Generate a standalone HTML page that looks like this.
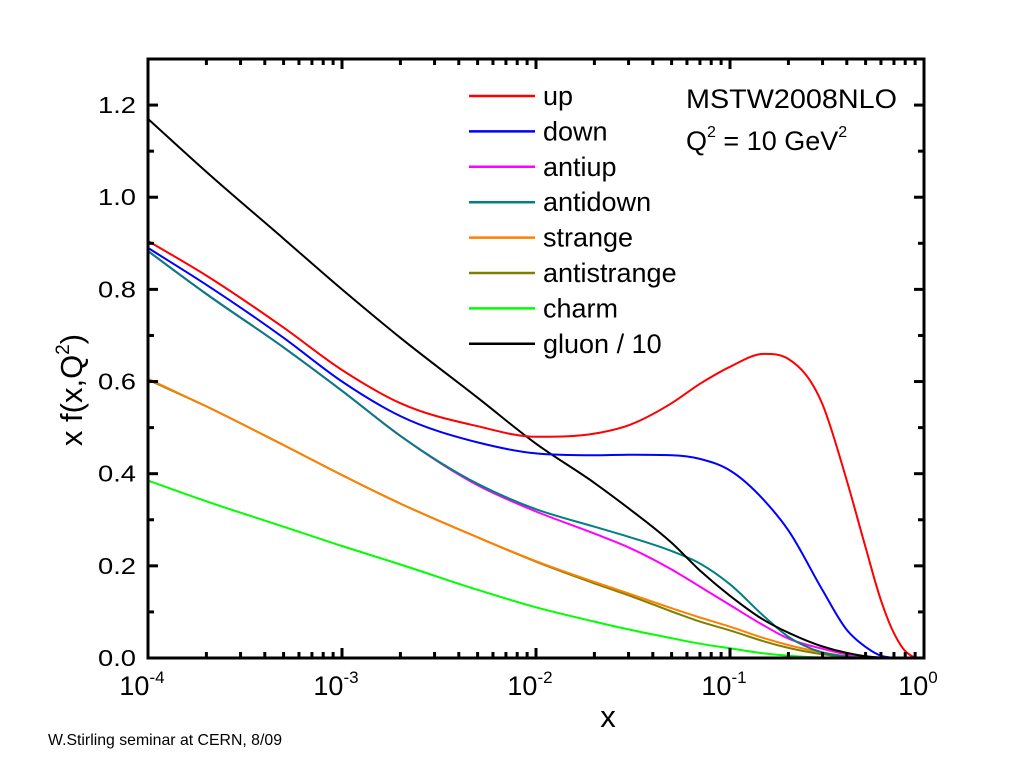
<!DOCTYPE html>
<html><head><meta charset="utf-8"><style>
body{margin:0;background:#fff;}
svg text{font-family:"Liberation Sans",Arial,sans-serif;}
</style></head><body>
<svg id="chart" width="1024" height="768" xmlns="http://www.w3.org/2000/svg">
<g id="marks"></g>
<g id="axes"></g>
<text x="48" y="745" font-size="16" fill="#000" textLength="234" lengthAdjust="spacingAndGlyphs">W.Stirling seminar at CERN, 8/09</text>
<text x="686" y="108" font-size="27" textLength="211" lengthAdjust="spacingAndGlyphs">MSTW2008NLO</text>
<text x="686" y="150" font-size="27">Q<tspan dy="-13" font-size="16">2</tspan><tspan dy="13"> = 10 GeV</tspan><tspan dy="-13" font-size="16">2</tspan></text>
<text transform="translate(82,390) rotate(-90)" text-anchor="middle" font-size="31">x f(x,Q<tspan dy="-13" font-size="19">2</tspan><tspan dy="13">)</tspan></text>
<text x="608" y="727" text-anchor="middle" font-size="31">x</text>
</svg>
<script>
const xGrid = [1e-4,2e-4,5e-4,1e-3,2e-3,5e-3,1e-2,2e-2,3e-2,5e-2,7e-2,0.1,0.15,0.2,0.3,0.4,0.5,0.6,0.7,0.8,0.9,1.0];
const seriesNames = ["up","down","antiup","antidown","strange","antistrange","charm","gluon / 10"];
const seriesColors = ["#ff0000","#0000ff","#ff00ff","#008080","#ff8000","#808000","#00ff00","#000000"];
const upVals =      [0.905,0.83,0.717,0.625,0.553,0.503,0.48,0.487,0.505,0.553,0.595,0.632,0.66,0.649,0.55,0.385,0.24,0.125,0.054,0.015,0.0,0.0];
const downVals =    [0.89,0.81,0.695,0.60,0.525,0.468,0.444,0.44,0.441,0.44,0.432,0.407,0.342,0.277,0.147,0.061,0.024,0.005,0.0,0.0,0.0,0.0];
const antiupVals =  [0.883,0.79,0.674,0.58,0.482,0.375,0.318,0.27,0.24,0.192,0.155,0.115,0.07,0.042,0.02,0.008,0.003,0.0,0.0,0.0,0.0,0.0];
const antidownVals= [0.883,0.79,0.674,0.58,0.482,0.378,0.323,0.285,0.263,0.232,0.205,0.16,0.09,0.046,0.012,0.003,0.0,0.0,0.0,0.0,0.0,0.0];
const strangeVals = [0.606,0.546,0.462,0.397,0.335,0.262,0.21,0.165,0.14,0.108,0.088,0.068,0.043,0.028,0.012,0.004,0.0,0.0,0.0,0.0,0.0,0.0];
const antistrangeVals=[0.604,0.546,0.462,0.397,0.335,0.262,0.209,0.162,0.136,0.101,0.079,0.06,0.036,0.022,0.008,0.002,0.0,0.0,0.0,0.0,0.0,0.0];
const charmVals =   [0.385,0.34,0.285,0.243,0.203,0.148,0.11,0.079,0.062,0.043,0.031,0.021,0.01,0.005,0.001,0.0,0.0,0.0,0.0,0.0,0.0,0.0];
const gluonVals =   [1.17,1.055,0.91,0.80,0.695,0.565,0.465,0.38,0.325,0.25,0.19,0.135,0.082,0.055,0.025,0.011,0.004,0.001,0.0,0.0,0.0,0.0];
const yTicks = [0.0,0.2,0.4,0.6,0.8,1.0,1.2];
const yTickLabels = ["0.0","0.2","0.4","0.6","0.8","1.0","1.2"];
const xTicksExp = [-4,-3,-2,-1,0];

const X0=148,X1=924,Y0=658,Y1=59,YMAX=1.3;
function sx(v){return X0+(Math.log10(v)+4)/4*(X1-X0);}
function sy(v){return Y0-v/YMAX*(Y0-Y1);}
const NS="http://www.w3.org/2000/svg";
function mk(tag,attrs,parent){const e=document.createElementNS(NS,tag);for(const k in attrs)e.setAttribute(k,attrs[k]);parent.appendChild(e);return e;}
const marks=document.getElementById('marks'),axes=document.getElementById('axes');
const allVals=[upVals,downVals,antiupVals,antidownVals,strangeVals,antistrangeVals,charmVals,gluonVals];

function pathFor(vals){
  let n=xGrid.length;
  for(let i=1;i<xGrid.length;i++){if(vals[i-1]===0&&vals[i]===0){n=i;break;}}
  const xs=[],ys=[];
  for(let i=0;i<n;i++){xs.push(sx(xGrid[i]));ys.push(sy(vals[i]));}
  const d=[],m=[];
  for(let i=0;i<n-1;i++)d.push((ys[i+1]-ys[i])/(xs[i+1]-xs[i]));
  m.push(d[0]);
  for(let i=1;i<n-1;i++){
    if(d[i-1]*d[i]<=0){m.push(0);continue;}
    const h0=xs[i]-xs[i-1],h1=xs[i+1]-xs[i];
    m.push((d[i-1]*h1+d[i]*h0)/(h0+h1));
  }
  m.push(d[n-2]);
  for(let i=0;i<n-1;i++){
    if(d[i]===0){m[i]=0;m[i+1]=0;continue;}
    const a=m[i]/d[i],b=m[i+1]/d[i],s=a*a+b*b;
    if(s>9){const t=3/Math.sqrt(s);m[i]=t*a*d[i];m[i+1]=t*b*d[i];}
  }
  let p="M"+xs[0].toFixed(1)+","+ys[0].toFixed(1);
  for(let i=0;i<n-1;i++){
    const h=(xs[i+1]-xs[i])/3;
    p+=" C"+(xs[i]+h).toFixed(1)+","+(ys[i]+m[i]*h).toFixed(1)+" "+(xs[i+1]-h).toFixed(1)+","+(ys[i+1]-m[i+1]*h).toFixed(1)+" "+xs[i+1].toFixed(1)+","+ys[i+1].toFixed(1);
  }
  return p;
}
const drawOrder=[6,5,4,2,3,7,1,0];
for(const i of drawOrder){
  const p=mk('path',{d:pathFor(allVals[i]),fill:'none',stroke:seriesColors[i],'stroke-width':2},marks);
  
  
}
const fr=mk('rect',{x:X0,y:Y1,width:X1-X0,height:Y0-Y1,fill:'none',stroke:'#000','stroke-width':3},axes);


for(let k=0;k<=13;k++){
  const v=k*0.1,y=sy(v),L=(k%2===0)?10:6;
  mk('line',{x1:X0,y1:y,x2:X0+L,y2:y,stroke:'#000','stroke-width':3},axes);
  mk('line',{x1:X1,y1:y,x2:X1-L,y2:y,stroke:'#000','stroke-width':3},axes);
}
yTicks.forEach((v,i)=>{
  const t=mk('text',{x:X0-12,y:sy(v)+8,'font-size':23,'text-anchor':'end',textLength:38,lengthAdjust:'spacingAndGlyphs'},axes);
  t.textContent=yTickLabels[i];
  
  
});
for(let e=-4;e<0;e++){for(let m=1;m<=9;m++){
  const x=sx(m*Math.pow(10,e)),L=(m===1)?10:6;
  mk('line',{x1:x,y1:Y0,x2:x,y2:Y0-L,stroke:'#000','stroke-width':3},axes);
  mk('line',{x1:x,y1:Y1,x2:x,y2:Y1+L,stroke:'#000','stroke-width':3},axes);
}}
xTicksExp.forEach(e=>{
  const t=mk('text',{x:sx(Math.pow(10,e))-6,y:695,'font-size':27,'text-anchor':'middle'},axes);
  t.textContent="10";
  const s=mk('tspan',{dy:-12,'font-size':17},t);s.textContent=String(e);
  
  
});
seriesNames.forEach((n,i)=>{
  const y=96+i*35.4;
  const g=mk('g',{},axes);
  
  
  mk('line',{x1:469,y1:y,x2:535,y2:y,stroke:seriesColors[i],'stroke-width':2.5},g);
  const t=mk('text',{x:543,y:y+9,'font-size':27},g);t.textContent=n;
});
</script>
</body></html>
